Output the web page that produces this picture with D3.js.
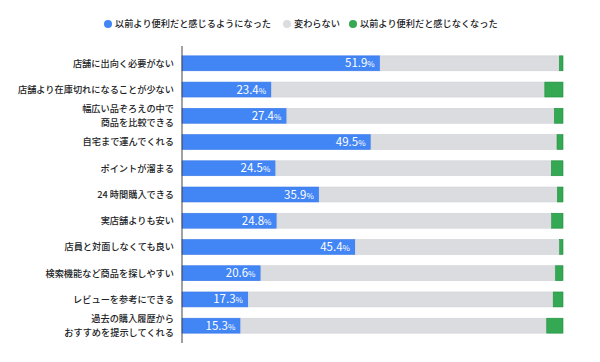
<!DOCTYPE html>
<html>
<head>
<meta charset="utf-8">
<script src="https://cdn.jsdelivr.net/npm/d3@7"></script>
<style>
body { margin: 0; background: #fff; }
text { font-family: "Noto Sans CJK JP", "Noto Sans", sans-serif; }
</style>
</head>
<body>
<div class="chart"></div>
<script>
// categories (multi-line labels split with \n)
var categories = [
  "店舗に出向く必要がない",
  "店舗より在庫切れになることが少ない",
  "幅広い品ぞろえの中で\n商品を比較できる",
  "自宅まで運んでくれる",
  "ポイントが溜まる",
  "24 時間購入できる",
  "実店舗よりも安い",
  "店員と対面しなくても良い",
  "検索機能など商品を探しやすい",
  "レビューを参考にできる",
  "過去の購入履歴から\nおすすめを提示してくれる"
];
var better = [51.9, 23.4, 27.4, 49.5, 24.5, 35.9, 24.8, 45.4, 20.6, 17.3, 15.3];
var worse  = [1.1, 4.9, 2.4, 1.7, 3.2, 1.6, 3.1, 1.0, 2.1, 2.7, 4.4];
var seriesNames = ["以前より便利だと感じるようになった", "変わらない", "以前より便利だと感じなくなった"];
var colors = ["#4285f4", "#dadce0", "#34a853"];
var strokes = ["#3b78e7", "#d0d2d6", "#1e8e3e"];

var width = 600, height = 362;

var svg = d3.select('div.chart')
  .append('svg')
  .attr('width', width)
  .attr('height', height);

var x = d3.scaleLinear()
  .domain([0, 100])
  .range([182, 563]);

var y = d3.scaleBand()
  .domain(categories)
  .range([46, 343])
  .paddingInner(0.43)
  .paddingOuter(0.375);

var rows = categories.map(function(c, i) {
  var same = 100 - better[i] - worse[i];
  return {
    cat: c,
    segs: [
      {k: 0, x0: 0, x1: better[i]},
      {k: 1, x0: better[i], x1: better[i] + same},
      {k: 2, x0: better[i] + same, x1: 100}
    ],
    better: better[i]
  };
});

var g = svg.selectAll('g.row')
  .data(rows)
  .enter()
  .append('g')
  .attr('class', 'row');

g.selectAll('rect')
  .data(function(d){ return d.segs.map(function(s){ s.cat = d.cat; return s; }); })
  .enter()
  .append('rect')
  .attr('x', function(d){ return x(d.x0) + (d.k > 0 ? 0.5 : 0); })
  .attr('y', function(d){ return y(d.cat); })
  .attr('width', function(d){ return Math.max(0, x(d.x1) - x(d.x0) - (d.k > 0 ? 0.5 : 0)); })
  .attr('height', y.bandwidth())
  .attr('fill', function(d){ return colors[d.k]; })
  .attr('stroke', function(d){ return strokes[d.k]; })
  .attr('stroke-width', 0.6);

// value labels inside blue bars
var vl = g.append('text')
  .attr('x', function(d){ return x(d.better) - 5; })
  .attr('y', function(d){ return y(d.cat) + y.bandwidth() / 2 + 4; })
  .attr('text-anchor', 'end')
  .attr('fill', '#fff');
vl.append('tspan')
  .attr('font-size', 11.5)
  .text(function(d){ return d.better.toFixed(1); });
vl.append('tspan')
  .attr('font-size', 8)
  .text('%');

// category labels
var cl = svg.selectAll('text.cat')
  .data(categories)
  .enter()
  .append('text')
  .attr('class', 'cat')
  .attr('text-anchor', 'end')
  .attr('font-size', 9.2)
  .attr('font-weight', 500)
  .attr('fill', '#202124');
cl.each(function(c) {
  var lines = c.split('\n');
  var cy = y(c) + y.bandwidth() / 2;
  var t = d3.select(this);
  lines.forEach(function(line, j) {
    t.append('tspan')
      .attr('x', 174)
      .attr('y', cy + 3.3 + (j - (lines.length - 1) / 2) * 14)
      .text(line);
  });
});

// axis line
svg.append('line')
  .attr('x1', 182).attr('x2', 182)
  .attr('y1', 46).attr('y2', 343)
  .attr('stroke', '#444')
  .attr('stroke-width', 1);

// legend
var legX = [108, 287, 353];
var leg = svg.selectAll('g.leg')
  .data(seriesNames)
  .enter()
  .append('g')
  .attr('class', 'leg')
  .attr('transform', function(d, i){ return 'translate(' + legX[i] + ',24)'; });
leg.append('circle')
  .attr('r', 4)
  .attr('fill', function(d, i){ return colors[i]; });
leg.append('text')
  .attr('x', 7)
  .attr('y', 3.3)
  .attr('font-size', 9.2)
  .attr('font-weight', 500)
  .attr('fill', '#202124')
  .text(function(d){ return d; });
</script>
</body>
</html>
